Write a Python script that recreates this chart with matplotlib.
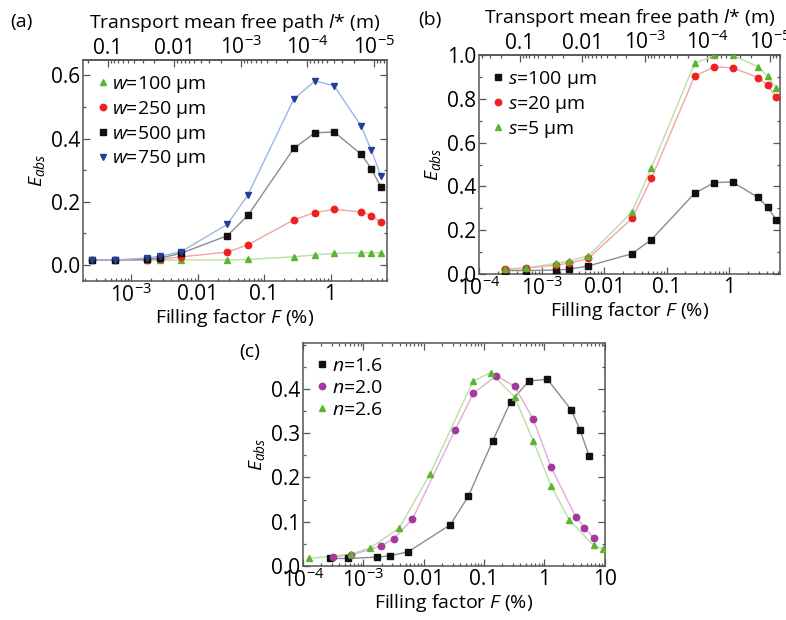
import numpy as np
import matplotlib
matplotlib.use("Agg")
import matplotlib.pyplot as plt
from matplotlib.ticker import FixedLocator, MultipleLocator, LogLocator, NullFormatter

plt.rcParams['font.family'] = ['Open Sans', 'DejaVu Sans']
plt.rcParams['mathtext.fontset'] = 'custom'
plt.rcParams['mathtext.rm'] = 'Open Sans'
plt.rcParams['mathtext.it'] = 'Open Sans:italic'
plt.rcParams['axes.edgecolor'] = '#555555'
plt.rcParams['xtick.color'] = '#555555'
plt.rcParams['ytick.color'] = '#555555'
plt.rcParams['xtick.labelcolor'] = 'black'
plt.rcParams['ytick.labelcolor'] = 'black'

# ---- data: panel (a), width w ----
F_a = [2.6e-4, 5.6e-4, 1.7e-3, 2.7e-3, 5.6e-3, 0.028, 0.057, 0.28, 0.58, 1.13, 2.9, 4.1, 5.7]
w100 = [0.016, 0.016, 0.016, 0.015, 0.016, 0.016, 0.018, 0.026, 0.032, 0.037, 0.039, 0.039, 0.039]
w250 = [0.016, 0.016, 0.016, 0.018, 0.026, 0.041, 0.064, 0.143, 0.166, 0.176, 0.168, 0.156, 0.136]
w500 = [0.016, 0.016, 0.018, 0.022, 0.037, 0.093, 0.157, 0.369, 0.418, 0.421, 0.350, 0.305, 0.247]
w750 = [0.016, 0.016, 0.022, 0.028, 0.042, 0.129, 0.222, 0.525, 0.582, 0.567, 0.439, 0.363, 0.283]

# ---- data: panel (b), roughness s ----
F_b = F_a
s100 = [0.016, 0.016, 0.018, 0.022, 0.037, 0.093, 0.157, 0.369, 0.418, 0.421, 0.350, 0.305, 0.247]
s20 = [0.021, 0.026, 0.041, 0.049, 0.072, 0.254, 0.437, 0.904, 0.947, 0.942, 0.898, 0.863, 0.807]
s5 = [0.024, 0.028, 0.049, 0.060, 0.083, 0.285, 0.485, 0.962, 1.0, 1.0, 0.947, 0.904, 0.848]

# ---- data: panel (c), refractive index n ----
F_n16 = [2.75e-4, 5.5e-4, 1.66e-3, 2.75e-3, 5.5e-3, 0.0275, 0.055, 0.138, 0.275, 0.55, 1.12, 2.8, 3.9, 5.5]
n16 = [0.017, 0.017, 0.020, 0.023, 0.032, 0.093, 0.158, 0.282, 0.371, 0.418, 0.422, 0.352, 0.307, 0.248]
F_n20 = [3.2e-4, 6.3e-4, 1.95e-3, 3.2e-3, 6.5e-3, 0.033, 0.066, 0.16, 0.32, 0.65, 1.29, 3.3, 4.6, 6.5]
n20 = [0.021, 0.025, 0.045, 0.062, 0.106, 0.307, 0.390, 0.430, 0.406, 0.332, 0.223, 0.111, 0.087, 0.064]
F_n26 = [1.26e-4, 6.3e-4, 1.29e-3, 3.9e-3, 0.0126, 0.066, 0.129, 0.32, 0.65, 1.29, 2.57, 6.5, 9.4]
n26 = [0.017, 0.027, 0.041, 0.085, 0.207, 0.418, 0.437, 0.382, 0.283, 0.181, 0.104, 0.047, 0.038]

C_lstar = 10 ** -4.35  # l* (m) = C / F(%)

GREEN = ('#5cb531', '#b8e0a4')
RED = ('#ee2020', '#f5a3a3')
BLACK = ('#111111', '#8c8c8c')
BLUE = ('#24409c', '#9db6e2')
PURPLE = ('#a3399d', '#e2abdc')

TS = 15
LS = 14


def series(ax, x, y, col, marker, label):
    ax.plot(x, y, '-', color=col[1], lw=1.0, zorder=2)
    ax.plot(x, y, linestyle='none', marker=marker, ms=4.6, color=col[0],
            mec=col[0], label=label, zorder=3)


def style(ax, xlim, top_axis):
    ax.set_xscale('log')
    ax.set_xlim(*xlim)
    ax.xaxis.set_major_locator(FixedLocator([1e-4, 1e-3, 1e-2, 1e-1, 1, 10]))
    ax.set_xticklabels([r'$10^{-4}$', r'$10^{-3}$', '0.01', '0.1', '1', '10'])
    ax.xaxis.set_minor_locator(LogLocator(base=10, subs=np.arange(2, 10), numticks=20))
    ax.xaxis.set_minor_formatter(NullFormatter())
    ax.tick_params(which='both', direction='in', right=True, top=not top_axis,
                   labelsize=TS, width=0.9)
    ax.tick_params(which='major', length=5, pad=2)
    ax.tick_params(which='minor', length=2.5)
    for sp in ax.spines.values():
        sp.set_linewidth(1.1)
    ax.set_xlabel(r'Filling factor $F$ (%)', fontsize=LS, labelpad=0)
    ax.set_ylabel(r'$E_{abs}$', fontsize=LS, labelpad=3)
    if top_axis:
        sec = ax.secondary_xaxis('top', functions=(lambda f: C_lstar / f,
                                                   lambda l: C_lstar / l))
        sec.xaxis.set_major_locator(FixedLocator([1e-5, 1e-4, 1e-3, 1e-2, 1e-1]))
        sec.set_xticklabels([r'$10^{-5}$', r'$10^{-4}$', r'$10^{-3}$', '0.01', '0.1'])
        sec.xaxis.set_minor_locator(LogLocator(base=10, subs=np.arange(2, 10), numticks=20))
        sec.xaxis.set_minor_formatter(NullFormatter())
        sec.tick_params(which='both', direction='in', labelsize=TS, width=0.9, pad=1)
        sec.tick_params(which='major', length=5)
        sec.tick_params(which='minor', length=2.5)
        sec.spines['top'].set_linewidth(1.1)
        sec.set_xlabel(r'Transport mean free path $l$* (m)', fontsize=LS, labelpad=5)


def legend(ax):
    ax.legend(loc='upper left', frameon=False, fontsize=LS, handlelength=0.6,
              handletextpad=0.2, labelspacing=0.2, borderaxespad=0.3,
              markerscale=1.0)


fig = plt.figure(figsize=(7.86, 6.2), dpi=100)

# (a)
ax_a = fig.add_axes([0.106, 0.547, 0.386, 0.356])
series(ax_a, F_a, w100, GREEN, '^', r'$w$=100 µm')
series(ax_a, F_a, w250, RED, 'o', r'$w$=250 µm')
series(ax_a, F_a, w500, BLACK, 's', r'$w$=500 µm')
series(ax_a, F_a, w750, BLUE, 'v', r'$w$=750 µm')
ax_a.set_ylim(-0.05, 0.648)
ax_a.set_yticks([0.0, 0.2, 0.4, 0.6])
ax_a.set_yticklabels(['0.0', '0.2', '0.4', '0.6'])
ax_a.yaxis.set_minor_locator(MultipleLocator(0.1))
style(ax_a, (1.9e-4, 7.0), True)
legend(ax_a)
fig.text(0.013, 0.965, '(a)', fontsize=LS, va='center')

# (b)
ax_b = fig.add_axes([0.6094, 0.558, 0.383, 0.353])
series(ax_b, F_b, s100, BLACK, 's', r'$s$=100 µm')
series(ax_b, F_b, s20, RED, 'o', r'$s$=20 µm')
series(ax_b, F_b, s5, GREEN, '^', r'$s$=5 µm')
ax_b.set_ylim(0, 1.0)
ax_b.set_yticks([0.0, 0.2, 0.4, 0.6, 0.8, 1.0])
ax_b.set_yticklabels(['0.0', '0.2', '0.4', '0.6', '0.8', '1.0'])
ax_b.yaxis.set_minor_locator(MultipleLocator(0.1))
style(ax_b, (1e-4, 6.5), True)
legend(ax_b)
fig.text(0.532, 0.968, '(b)', fontsize=LS, va='center')

# (c)
ax_c = fig.add_axes([0.3855, 0.0871, 0.384, 0.359])
series(ax_c, F_n16, n16, BLACK, 's', r'$n$=1.6')
series(ax_c, F_n20, n20, PURPLE, 'o', r'$n$=2.0')
series(ax_c, F_n26, n26, GREEN, '^', r'$n$=2.6')
ax_c.set_ylim(0, 0.503)
ax_c.set_yticks([0.0, 0.1, 0.2, 0.3, 0.4])
ax_c.set_yticklabels(['0.0', '0.1', '0.2', '0.3', '0.4'])
ax_c.yaxis.set_minor_locator(MultipleLocator(0.05))
style(ax_c, (1e-4, 10), False)
legend(ax_c)
fig.text(0.305, 0.432, '(c)', fontsize=LS, va='center')

fig.savefig('out.png', dpi=100)
